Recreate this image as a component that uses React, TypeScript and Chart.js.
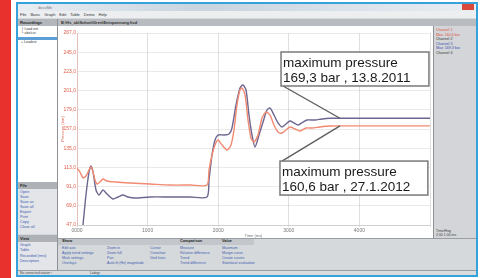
import React, { useEffect, useRef } from "react";
import { Chart, registerables } from "chart.js";

Chart.register(...registerables);

// ---- data (time in ms, pressure in bar) ----
const darkTimes = [85, 127, 170, 198, 227, 269, 312, 368, 425, 510, 581, 652, 722, 822, 1034, 1317, 1601, 1841, 1870, 1912, 1955, 1997, 2082, 2153, 2195, 2252, 2309, 2351, 2394, 2436, 2479, 2521, 2578, 2635, 2691, 2734, 2790, 2847, 2904, 2960, 3017, 3074, 3130, 3201, 3258, 3371, 3470, 3584, 3725, 5000];
const darkValues = [47, 81.4, 107.7, 114.6, 107.7, 87.1, 81.4, 87.1, 82.5, 76.8, 79.1, 81.4, 79.1, 77.9, 79.1, 79.1, 79.1, 79.1, 98.6, 127.2, 144.4, 150.1, 150.1, 151.3, 158.1, 184.5, 204, 207.4, 201.7, 173, 150.1, 136.4, 150.1, 165, 178.8, 181.1, 173, 163.9, 159.3, 162.7, 166.2, 163.9, 161.6, 165, 167.3, 167.3, 168.5, 169.3, 169.3, 169.3];

const redTimes = [0, 42, 85, 127, 170, 198, 227, 255, 283, 326, 368, 425, 538, 751, 1034, 1317, 1601, 1841, 1870, 1912, 1955, 1997, 2054, 2125, 2181, 2224, 2266, 2309, 2337, 2380, 2422, 2465, 2507, 2564, 2620, 2677, 2734, 2790, 2847, 2904, 2960, 3017, 3088, 3159, 3244, 3329, 3442, 3584, 3725, 5000];
const redValues = [112.3, 107.7, 100.9, 103.1, 110, 113.5, 107.7, 98.6, 94, 96.3, 99.7, 97.4, 96.3, 95.1, 94, 92.8, 92.8, 92.8, 110, 127.2, 138.7, 144.4, 138.7, 132.9, 138.7, 155.9, 184.5, 201.7, 204, 196, 167.3, 146.7, 142.1, 150.1, 169.6, 176.5, 173, 161.6, 153.6, 152.4, 155.9, 159.3, 157, 154.7, 158.1, 158.1, 159.3, 160.4, 160.6, 160.6];

const xTickValues = [0, 1000, 2000, 3000, 4000, 5000];
const xTickLabels = ["0000", "1000", "2000", "3000", "4000", ""];
const yMin = 47;
const yMax = 267;
const yStep = 22;

const upperNote = ["maximum pressure", "169,3 bar , 13.8.2011"];
const upperNoteAt = { time: 3725, value: 169.3 };
const lowerNote = ["maximum pressure", "160,6 bar , 27.1.2012"];
const lowerNoteAt = { time: 3725, value: 160.6 };

const menuItems = ["File", "Basic", "Graph", "Edit", "Table", "Demo", "Help"];
const fileItems = ["Open", "Save", "Save as", "Save all", "Export", "Print", "Copy", "Close all"];
const viewItems = ["Graph", "Table", "Recorded (rms)", "Description"];
const channelItems: [string, string][] = [
  ["Channel 1", "#e0503a"],
  ["Max: 160,6 bar", "#e0503a"],
  ["Channel 2", "#333"],
  ["Channel 3", "#3a4fb0"],
  ["Max: 169,3 bar", "#3a4fb0"],
  ["Channel 4", "#333"],
];
const showCols: { x: number; title?: string; items: string[] }[] = [
  { x: 62, title: "Show", items: ["Edit axis", "Apply trend settings", "Mark settings", "Overlays"] },
  { x: 107, items: ["Zoom in", "Zoom full", "Pan", "Auto fit (Hz) magnitude"] },
  { x: 150, items: ["Cursor", "Crosshair", "Grid lines"] },
  { x: 180, title: "Comparison", items: ["Measure", "Relative difference", "Trend", "Trend difference"] },
  { x: 222, title: "Value", items: ["Maximum", "Margin curve", "Create curves", "Statistical evaluation"] },
];

const FONT = "'Liberation Sans', Arial, sans-serif";

function T(props: { x: number; y: number; s?: number; c?: string; b?: boolean; children: React.ReactNode }) {
  return (
    <div
      style={{
        position: "absolute",
        left: props.x,
        top: props.y,
        fontSize: props.s ?? 4,
        color: props.c ?? "#333",
        fontWeight: props.b ? "bold" : "normal",
        whiteSpace: "nowrap",
        lineHeight: 1,
        fontFamily: FONT,
      }}
    >
      {props.children}
    </div>
  );
}

function Box(props: { x: number; y: number; w: number; h: number; bg: string; style?: React.CSSProperties }) {
  return (
    <div
      style={{
        position: "absolute",
        left: props.x,
        top: props.y,
        width: props.w,
        height: props.h,
        background: props.bg,
        ...props.style,
      }}
    />
  );
}

const notesPlugin = {
  id: "notes",
  afterDraw(chart: any) {
    const ctx = chart.ctx as CanvasRenderingContext2D;
    const ca = chart.chartArea;
    const w = ca.right - ca.left;
    const h = ca.bottom - ca.top;
    const xs = chart.scales.x;
    const ys = chart.scales.y;
    const drawNote = (lines: string[], at: { time: number; value: number }, fx0: number, fx1: number, fy0: number, fy1: number, fromTop: boolean) => {
      const L = ca.left + fx0 * w;
      const R = ca.left + fx1 * w;
      const Tp = ca.top + fy0 * h;
      const B = ca.top + fy1 * h;
      const px = xs.getPixelForValue(at.time);
      const py = ys.getPixelForValue(at.value);
      ctx.save();
      ctx.strokeStyle = "#5e5e5e";
      ctx.lineWidth = 1.4;
      ctx.beginPath();
      ctx.moveTo(L + 2, fromTop ? Tp : B);
      ctx.lineTo(px, py);
      ctx.stroke();
      ctx.fillStyle = "#ffffff";
      ctx.fillRect(L, Tp, R - L, B - Tp);
      ctx.strokeStyle = "#7a7a7a";
      ctx.lineWidth = 1.5;
      ctx.strokeRect(L, Tp, R - L, B - Tp);
      ctx.fillStyle = "#1a1a1a";
      ctx.font = `13.5px ${FONT}`;
      ctx.textBaseline = "alphabetic";
      ctx.fillText(lines[0], L + 2, Tp + 15);
      ctx.fillText(lines[1], L + 2, Tp + 30);
      ctx.restore();
    };
    drawNote(upperNote, upperNoteAt, 0.578, 0.997, 0.099, 0.276, false);
    drawNote(lowerNote, lowerNoteAt, 0.575, 0.994, 0.667, 0.844, true);
  },
};

function PlotCanvas() {
  const ref = useRef<HTMLCanvasElement | null>(null);
  useEffect(() => {
    if (!ref.current) return;
    const chart = new Chart(ref.current, {
      type: "line",
      data: {
        datasets: [
          {
            data: redTimes.map((t, i) => ({ x: t, y: redValues[i] })),
            borderColor: "#f28a72",
            borderWidth: 1.4,
            pointRadius: 0,
            tension: 0.25,
            fill: false,
          },
          {
            data: darkTimes.map((t, i) => ({ x: t, y: darkValues[i] })),
            borderColor: "#6c6690",
            borderWidth: 1.4,
            pointRadius: 0,
            tension: 0.25,
            fill: false,
          },
        ],
      },
      options: {
        animation: false,
        responsive: false,
        maintainAspectRatio: false,
        layout: { padding: { top: 6, right: 3, left: 0, bottom: 0 } },
        plugins: { legend: { display: false }, tooltip: { enabled: false } },
        scales: {
          x: {
            type: "linear",
            min: 0,
            max: 5000,
            afterBuildTicks: (s: any) => {
              s.ticks = xTickValues.map((v) => ({ value: v }));
            },
            afterFit: (s: any) => {
              s.height = 13;
            },
            ticks: {
              callback: (_v: any, i: number) => xTickLabels[i],
              font: { size: 5, family: FONT },
              color: "#777",
              maxRotation: 0,
              autoSkip: false,
              padding: 1,
            },
            grid: { color: "rgba(185,185,185,0.45)", drawTicks: true, tickLength: 2 },
            border: { color: "rgba(190,190,190,0.6)" },
            title: { display: true, text: "Time (ms)", font: { size: 4, family: FONT }, color: "#777", padding: 0 },
          },
          y: {
            min: yMin,
            max: yMax,
            afterFit: (s: any) => {
              s.width = 17;
            },
            ticks: {
              stepSize: yStep,
              callback: (v: any) => Number(v).toFixed(1).replace(".", ","),
              font: { size: 5, family: FONT },
              color: "#e0604a",
              padding: 1,
            },
            grid: { color: "rgba(195,195,195,0.35)", drawTicks: false },
            border: { color: "rgba(230,160,150,0.5)" },
            title: { display: true, text: "Pressure (bar)", font: { size: 4, family: FONT }, color: "#e0604a", padding: 0 },
          },
        },
      },
      plugins: [notesPlugin],
    } as any);
    return () => chart.destroy();
  }, []);
  return <canvas ref={ref} width={373} height={211} style={{ position: "absolute", left: 60, top: 27, width: 373, height: 211 }} />;
}

export default function App() {
  return (
    <div style={{ position: "fixed", left: 0, top: 0, width: 483, height: 278, background: "#fff", overflow: "hidden", fontFamily: FONT }}>
      {/* red stripe */}
      <Box x={0} y={0} w={11} h={278} bg="#e8302c" />
      {/* window frame */}
      <Box x={16} y={2} w={462} h={275} bg="#d5d8db" style={{ boxSizing: "border-box", border: "2px solid #35a2dc" }} />
      {/* title bar */}
      <Box x={18} y={4} w={458} h={7} bg="linear-gradient(90deg, #e8edf2, #c9d4df 40%, #e8edf2)" />
      <T x={38} y={5.5} s={4} c="#777">decoMe</T>
      <Box x={462} y={4} w={12} h={6} bg="#d8493c" />
      {/* menu bar */}
      <Box x={18} y={11} w={458} h={7} bg="#eceef0" />
      <div style={{ position: "absolute", left: 20, top: 12.5, display: "flex", gap: 4, fontSize: 4, lineHeight: 1, color: "#333", fontFamily: FONT, whiteSpace: "nowrap" }}>
        {menuItems.map((m) => (
          <span key={m}>{m}</span>
        ))}
      </div>
      {/* left panel */}
      <Box x={18} y={19} w={39} h={7} bg="#b3b7bb" />
      <T x={20} y={20.5} s={4} b c="#222">Recordings</T>
      <Box x={18} y={26} w={39} h={156} bg="#ffffff" />
      <T x={21} y={28} s={3.5} c="#333">├ Load ext</T>
      <T x={21} y={32} s={3.5} c="#333">└ abs/cur</T>
      <Box x={18} y={37} w={39} h={3} bg="#5b9fd6" />
      <T x={21} y={41} s={3.5} c="#333">+ Loudest</T>
      <Box x={18} y={182} w={39} h={7} bg="#aeb2b6" />
      <T x={20} y={183.5} s={4} b c="#222">File</T>
      <Box x={18} y={189} w={39} h={45} bg="#e3e5e8" />
      {fileItems.map((it, i) => (
        <T key={it} x={20} y={191 + i * 5} s={3.8} c="#3d5db0">{it}</T>
      ))}
      <Box x={18} y={235} w={39} h={7} bg="#aeb2b6" />
      <T x={20} y={236.5} s={4} b c="#222">View</T>
      <Box x={18} y={242} w={39} h={29} bg="#e3e5e8" />
      {viewItems.map((it, i) => (
        <T key={it} x={20} y={244 + i * 5.3} s={3.8} c="#3d5db0">{it}</T>
      ))}
      <Box x={57} y={19} w={1} h={252} bg="#8e9296" />
      {/* chart panel */}
      <Box x={58} y={19} w={418} h={7} bg="#b8bcc0" />
      <T x={61} y={20.5} s={4} b c="#333">B:\Hs_ab\Schott\Gren\Entspannung.hvd</T>
      <Box x={58} y={26} w={376} h={212} bg="#ffffff" />
      <PlotCanvas />
      {/* right panel */}
      <Box x={434} y={26} w={42} h={212} bg="#d3d5d8" />
      <Box x={433} y={26} w={1} h={212} bg="#8e9296" />
      {channelItems.map(([txt, col], i) => (
        <T key={txt + i} x={436} y={29 + i * 4.6} s={3.6} c={col}>{txt}</T>
      ))}
      <T x={436} y={230} s={3.5} c="#444">Time/Hog</T>
      <T x={436} y={234} s={3.5} c="#444">2:00   1:00 ms</T>
      {/* bottom panel */}
      <Box x={58} y={238} w={418} h={1} bg="#9a9ea2" />
      <Box x={58} y={239} w={418} h={32} bg="#d6d9dc" />
      <Box x={58} y={239} w={196} h={6} bg="#c3c7cb" />
      {showCols.map((col) => (
        <React.Fragment key={col.x}>
          {col.title ? <T x={col.x} y={240} s={3.8} b c="#222">{col.title}</T> : null}
          {col.items.map((it, i) => (
            <T key={it} x={col.x} y={247 + i * 5} s={3.6} c="#3d5db0">{it}</T>
          ))}
        </React.Fragment>
      ))}
      {/* status bar */}
      <Box x={18} y={270} w={458} h={1} bg="#9a9ea2" />
      <Box x={18} y={271} w={458} h={4} bg="#dadcde" />
      <T x={20} y={271.5} s={3.2} c="#444">No connected station ›</T>
      <T x={90} y={271.5} s={3.2} c="#444">Ladegr.</T>
    </div>
  );
}
